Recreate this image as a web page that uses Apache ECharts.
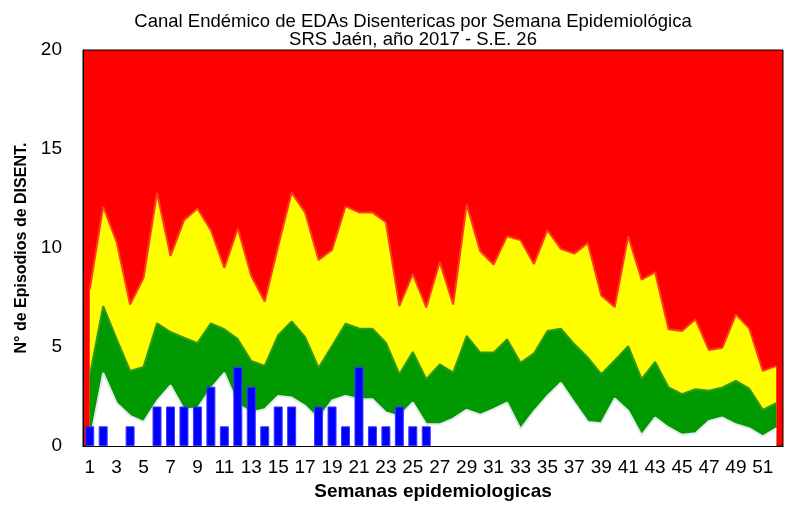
<!DOCTYPE html>
<html>
<head>
<meta charset="utf-8">
<script src="https://cdn.jsdelivr.net/npm/echarts@6/dist/echarts.min.js"></script>
<style>
html, body { margin: 0; padding: 0; background: #fff; }
#chartmain { width: 790px; height: 506px; }
</style>
</head>
<body>
<div id="chartmain"></div>
<script>
var semanas = [];
for (var i = 1; i <= 52; i++) semanas.push(String(i));

// canal endemico: limite superior (epidemia), mediana (alarma), inferior (seguridad)
var data_sup = [7.9, 12.1, 10.3, 7.15, 8.5, 12.8, 9.6, 11.4, 12.0, 10.9, 9.0, 11.0, 8.6, 7.3, 10.1, 12.8, 11.8, 9.4, 9.9, 12.1,
    11.8, 11.8, 11.3, 7.07, 8.7, 7.0, 9.3, 7.15, 12.2, 9.85, 9.17, 10.6, 10.4, 9.2, 10.9, 9.96, 9.72, 10.26, 7.6, 7.02,
    10.6, 8.4, 8.78, 5.9, 5.81, 6.4, 4.85, 4.97, 6.65, 5.93, 3.8, 4.05];
var data_med = [3.54, 7.07, 5.4, 3.8, 4.0, 6.2, 5.76, 5.47, 5.2, 6.2, 5.9, 5.4, 4.3, 4.05, 5.6, 6.3, 5.5, 3.96, 5.05, 6.18,
    5.94, 5.93, 5.22, 3.63, 4.75, 3.38, 4.13, 3.71, 5.56, 4.72, 4.72, 5.39, 4.21, 4.68, 5.81, 5.93, 5.14, 4.47, 3.63, 4.33,
    5.05, 3.38, 4.25, 2.96, 2.62, 2.87, 2.79, 2.96, 3.29, 2.9, 1.83, 2.17];
var data_inf = [0.2, 3.7, 2.17, 1.53, 1.22, 2.28, 3.07, 1.86, 1.9, 2.9, 3.7, 2.1, 1.7, 1.86, 2.53, 2.45, 2.03, 1.36, 2.3, 2.53,
    2.37, 2.37, 1.7, 1.5, 2.2, 1.1, 1.1, 1.39, 1.83, 1.58, 1.86, 2.2, 0.86, 1.75, 2.53, 3.2, 2.2, 1.22, 1.16, 2.4,
    1.78, 0.55, 1.44, 0.94, 0.57, 0.65, 1.27, 1.44, 1.1, 0.89, 0.49, 0.89];
// casos 2017 hasta S.E. 26
var data_casos = [1, 1, 0, 1, 0, 2, 2, 2, 2, 3, 1, 4, 3, 1, 2, 2, 0, 2, 2, 1, 4, 1, 1, 2, 1, 1];
var y_ticks = [0, 5, 10, 15, 20];

function area(nombre, datos, relleno, borde) {
    return {
        name: nombre,
        type: 'line',
        data: datos,
        symbol: 'none',
        silent: true,
        z: 2,
        lineStyle: { color: borde, width: 2 },
        areaStyle: { color: relleno, opacity: 1, origin: 'start' }
    };
}

var option = {
    animation: false,
    textStyle: { fontFamily: 'Liberation Sans, Arial, sans-serif' },
    title: {
        text: 'Canal Endémico de EDAs Disentericas por Semana Epidemiológica\nSRS Jaén, año 2017 - S.E. 26',
        left: 408,
        top: 8,
        textAlign: 'center',
        textStyle: { fontSize: 18.5, fontWeight: 'normal', color: '#000', lineHeight: 18 }
    },
    grid: {
        left: 83, right: 7, top: 50, bottom: 59,
        show: true,
        backgroundColor: '#ff0000',
        borderColor: '#000',
        borderWidth: 1
    },
    xAxis: {
        type: 'category',
        data: semanas,
        boundaryGap: true,
        name: 'Semanas epidemiologicas',
        nameLocation: 'middle',
        nameGap: 35,
        nameTextStyle: { fontSize: 19, fontWeight: 'bold', color: '#000' },
        axisLine: { lineStyle: { color: '#000' } },
        axisTick: { show: false },
        axisLabel: { interval: 1, fontSize: 19, color: '#000', margin: 12 },
        splitLine: { show: false }
    },
    yAxis: {
        type: 'value',
        min: y_ticks[0],
        max: y_ticks[y_ticks.length - 1],
        interval: 5,
        name: 'N° de Episodios de DISENT.',
        nameLocation: 'middle',
        nameGap: 50,
        nameTextStyle: { fontSize: 16, fontWeight: 'bold', color: '#000' },
        axisLine: { show: true, lineStyle: { color: '#000' } },
        axisTick: { show: false },
        axisLabel: { fontSize: 19, color: '#000', margin: 21 },
        splitLine: { show: false }
    },
    series: [
        area('Epidemia', data_sup, '#ffff00', '#ff3c1e'),
        area('Alarma', data_med, '#009900', '#2f9a1c'),
        area('Seguridad', data_inf, '#ffffff', '#e2ecec'),
        {
            name: 'Casos 2017',
            type: 'bar',
            z: 5,
            data: data_casos.map(function (v) { return v === 0 ? '-' : v; }),
            barWidth: 9,
            itemStyle: { color: '#0000ff', borderColor: '#3a3aff', borderWidth: 1 }
        }
    ]
};

var myChart = echarts.init(document.getElementById('chartmain'));
myChart.setOption(option);
</script>
</body>
</html>
